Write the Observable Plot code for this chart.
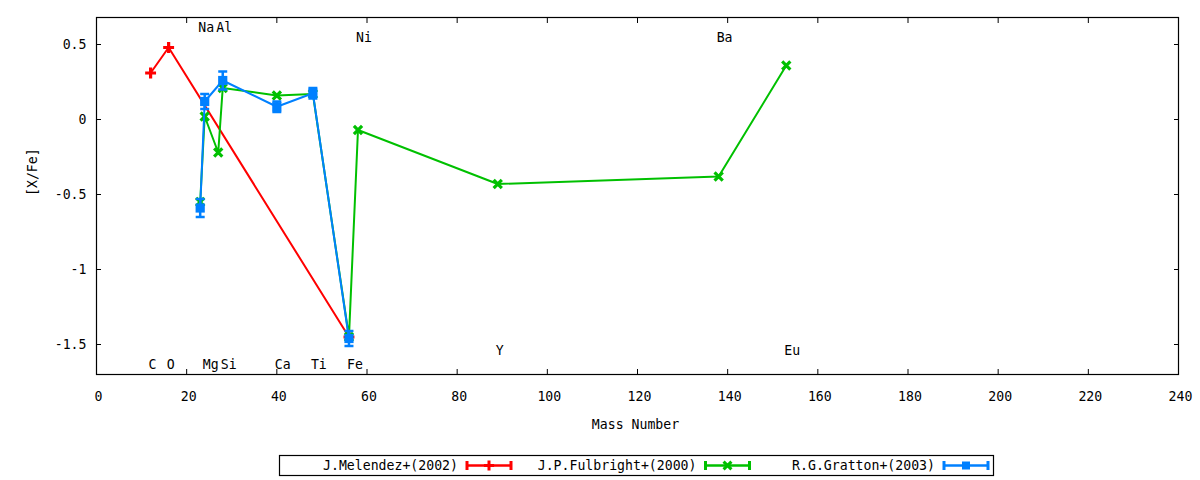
<!DOCTYPE html>
<html>
<head>
<meta charset="utf-8">
<script src="https://cdn.jsdelivr.net/npm/d3@7"></script>
<script src="https://cdn.jsdelivr.net/npm/@observablehq/plot@0.6"></script>
<style>
  html, body { margin: 0; padding: 0; background: white; }
  #legend { display: block; }
</style>
</head>
<body>
<script>
// ---- data ----
const seriesNames = ["J.Melendez+(2002)", "J.P.Fulbright+(2000)", "R.G.Gratton+(2003)"];
const seriesColors = ["#ff0000", "#00c000", "#0080ff"];

const melMass = [12, 16, 56];
const melVal = [0.31, 0.48, -1.45];

const fulMass = [23, 24, 27, 28, 40, 48, 56, 58, 89, 138, 153];
const fulVal = [-0.55, 0.02, -0.22, 0.21, 0.16, 0.17, -1.45, -0.07, -0.43, -0.38, 0.36];

const graMass = [23, 24, 28, 40, 48, 56];
const graVal = [-0.59, 0.12, 0.26, 0.085, 0.175, -1.46];
const graErr = [0.06, 0.05, 0.06, 0.035, 0.035, 0.05];

const labelText = ["C", "O", "Na", "Mg", "Al", "Si", "Ca", "Ti", "Fe", "Ni", "Y", "Ba", "Eu"];
const labelMass = [12, 16, 23, 24, 27, 28, 40, 48, 56, 58, 89, 138, 153];
const labelY = [-1.632, -1.632, 0.61, -1.632, 0.61, -1.632, -1.632, -1.632, -1.632, 0.545, -1.54, 0.545, -1.54];

const xTicks = [0, 20, 40, 60, 80, 100, 120, 140, 160, 180, 200, 220, 240];
const yTicks = [-1.5, -1, -0.5, 0, 0.5];

// ---- tables ----
const mel = melMass.map((m, i) => ({m, v: melVal[i]}));
const ful = fulMass.map((m, i) => ({m, v: fulVal[i]}));
const gra = graMass.map((m, i) => ({m, v: graVal[i], e: graErr[i]}));
const labels = labelText.map((t, i) => ({t, m: labelMass[i], y: labelY[i]}));

const FONT = "'DejaVu Sans Mono', monospace";
const capSymbol = {draw(ctx) { const w = 4.5; ctx.moveTo(-w, 0); ctx.lineTo(w, 0); }};

const chart = Plot.plot({
  width: 1200,
  height: 445,
  marginLeft: 96,
  marginRight: 22,
  marginTop: 17,
  marginBottom: 71,
  x: {domain: [0, 240]},
  y: {domain: [-1.7, 0.68]},
  style: {fontFamily: FONT, fontSize: "13.2px", color: "black", background: "white", overflow: "visible"},
  marks: [
    // axes (labels)
    Plot.axisX(xTicks, {anchor: "bottom", tickSize: 0, tickPadding: 17, dx: 2, label: null, tickFormat: d => String(d), fill: "black"}),
    Plot.axisY(yTicks, {anchor: "left", tickSize: 0, tickPadding: 10, label: null, tickFormat: d => String(d), fill: "black"}),
    // inward ticks, mirrored
    Plot.axisX(xTicks, {anchor: "bottom", tickSize: -5, text: null, label: null, stroke: "black"}),
    Plot.axisX(xTicks, {anchor: "top", tickSize: -5, text: null, label: null, stroke: "black"}),
    Plot.axisY(yTicks, {anchor: "left", tickSize: -5, text: null, label: null, stroke: "black"}),
    Plot.axisY(yTicks, {anchor: "right", tickSize: -5, text: null, label: null, stroke: "black"}),
    Plot.frame({stroke: "black", strokeWidth: 1.2}),
    // axis titles
    Plot.text(["Mass Number"], {frameAnchor: "bottom", dy: 54, dx: -2, text: d => d, fill: "black"}),
    Plot.text(["[X/Fe]"], {frameAnchor: "left", rotate: -90, dx: -64, text: d => d, fill: "black"}),
    // element labels
    Plot.text(labels, {x: "m", y: "y", text: "t", textAnchor: "start", dx: -2, fill: "black"}),
    // Melendez
    Plot.line(mel, {x: "m", y: "v", stroke: seriesColors[0], strokeWidth: 2}),
    Plot.dot(mel, {x: "m", y: "v", symbol: "plus", r: 3.6, stroke: seriesColors[0], strokeWidth: 3.2}),
    // Fulbright
    Plot.line(ful, {x: "m", y: "v", stroke: seriesColors[1], strokeWidth: 2}),
    Plot.dot(ful, {x: "m", y: "v", symbol: "times", r: 3.8, stroke: seriesColors[1], strokeWidth: 3.2}),
    // Gratton
    Plot.line(gra, {x: "m", y: "v", stroke: seriesColors[2], strokeWidth: 2}),
    Plot.ruleX(gra, {x: "m", y1: d => d.v - d.e, y2: d => d.v + d.e, stroke: seriesColors[2], strokeWidth: 2.5}),
    Plot.dot(gra, {x: "m", y: d => d.v - d.e, symbol: capSymbol, fill: "none", stroke: seriesColors[2], strokeWidth: 2.5}),
    Plot.dot(gra, {x: "m", y: d => d.v + d.e, symbol: capSymbol, fill: "none", stroke: seriesColors[2], strokeWidth: 2.5}),
    Plot.dot(gra, {x: "m", y: "v", symbol: "square", r: 5.2, fill: seriesColors[2], stroke: "none"})
  ]
});
document.body.appendChild(chart);

// ---- legend (below the plot) ----
const legendSymbols = [d3.symbolPlus, d3.symbolTimes, d3.symbolSquare];
const legendSizes = [36, 42, 64];
const legendFilled = [false, false, true];
const lg = d3.select("body").append("svg")
  .attr("id", "legend")
  .attr("width", 1200).attr("height", 35)
  .style("font-family", FONT).style("font-size", "13.2px");
lg.append("rect").attr("x", 279.5).attr("y", 10.5).attr("width", 714).attr("height", 20)
  .attr("fill", "none").attr("stroke", "black").attr("stroke-width", 1.2);
seriesNames.forEach((name, i) => {
  const tEnd = 458 + 238.5 * i;
  const x1 = tEnd + 9, x2 = tEnd + 53, cy = 20.5;
  const c = seriesColors[i];
  lg.append("text").attr("x", tEnd).attr("y", cy).attr("text-anchor", "end")
    .attr("dominant-baseline", "central").attr("fill", "black").text(name);
  lg.append("line").attr("x1", x1).attr("x2", x2).attr("y1", cy).attr("y2", cy)
    .attr("stroke", c).attr("stroke-width", 2.5);
  [x1, x2].forEach(x => lg.append("line").attr("x1", x).attr("x2", x).attr("y1", cy - 4.5).attr("y2", cy + 4.5)
    .attr("stroke", c).attr("stroke-width", 3));
  const p = lg.append("path").attr("d", d3.symbol(legendSymbols[i], legendSizes[i])())
    .attr("transform", `translate(${(x1 + x2) / 2},${cy})`);
  if (legendFilled[i]) p.attr("fill", c); else p.attr("fill", "none").attr("stroke", c).attr("stroke-width", 3);
});
</script>
</body>
</html>
